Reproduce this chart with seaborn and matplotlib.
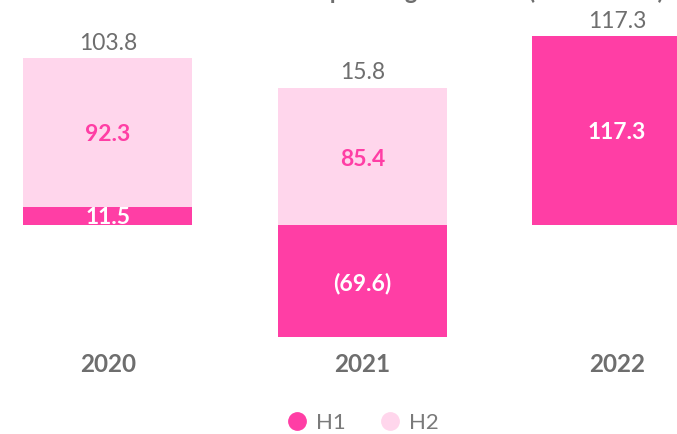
import numpy as np
import matplotlib
matplotlib.use("Agg")
import matplotlib.pyplot as plt
from matplotlib.lines import Line2D
import seaborn as sns

# data
years = ["2020", "2021", "2022"]
h1 = np.array([11.5, -69.6, 117.3])
h2 = np.array([92.3, 85.4, 0.0])
title = "Net operating cash flow (EUR million)"

PINK = "#FF3EA5"
LIGHT = "#FFD6EC"
GREY = "#6E6E6E"

sns.set_theme(style="white")
plt.rcParams["font.family"] = ["Lato", "DejaVu Sans"]

fig = plt.figure(figsize=(6.77, 4.34), dpi=100)
ax = fig.add_axes([0, 0.205, 1, 0.795])

totals = h1 + h2
stack_top = np.maximum(h1, 0) + h2

# H2 drawn as full stack, H1 over it
sns.barplot(x=years, y=stack_top, color=LIGHT, saturation=1, width=0.664,
            linewidth=0, ax=ax)
sns.barplot(x=years, y=h1, color=PINK, saturation=1, width=0.664,
            linewidth=0, ax=ax)

for i in range(len(years)):
    lbl = f"{h1[i]:.1f}" if h1[i] >= 0 else f"({-h1[i]:.1f})"
    ax.annotate(lbl, (i, h1[i] / 2), xytext=(0, -1.5), textcoords="offset points",
                ha="center", va="center", color="white",
                fontsize=16.5, fontweight="bold")
    if h2[i] > 0:
        ax.annotate(f"{h2[i]:.1f}", (i, np.maximum(h1[i], 0) + h2[i] / 2),
                    xytext=(0, -2), textcoords="offset points",
                    ha="center", va="center", color=PINK, fontsize=16.5, fontweight="bold")
    ax.annotate(f"{totals[i]:.1f}", (i, stack_top[i]), xytext=(0, 3),
                textcoords="offset points", ha="center", va="bottom",
                color=GREY, fontsize=16.5)

ax.set_xlim(-0.424, 2.236)
ax.set_ylim(-74.5, 139.75)
ax.set_yticks([])
ax.tick_params(axis="x", length=0, pad=6)
for t in ax.get_xticklabels():
    t.set_fontsize(17.5)
    t.set_fontweight("bold")
    t.set_color(GREY)
sns.despine(ax=ax, left=True, bottom=True)
ax.set_xlabel("")
ax.set_ylabel("")

fig.text(664 / 677, 1 + 1.5 / 434, title, ha="right", va="baseline",
         fontsize=17, fontweight="bold", color=GREY)

handles = [Line2D([], [], marker="o", linestyle="", markersize=12.5,
                  markerfacecolor=c, markeredgecolor=c) for c in (PINK, LIGHT)]
fig.legend(handles, ["H1", "H2"], loc="center", bbox_to_anchor=(362 / 677, 1 - 423 / 434),
           ncol=2, frameon=False, fontsize=16, handletextpad=0.35, columnspacing=1.5,
           labelcolor="#7A7A7A", handlelength=1.0)

fig.savefig("out.png", dpi=100)
